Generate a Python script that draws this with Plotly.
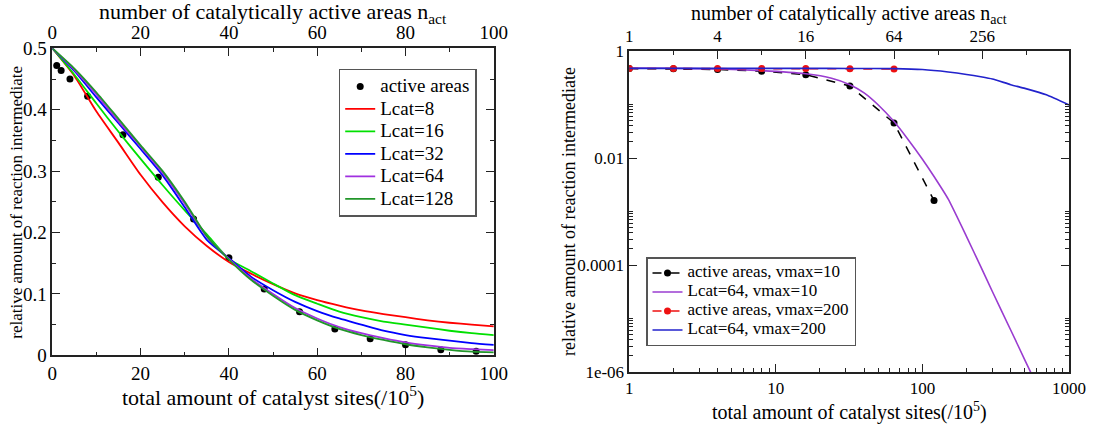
import plotly.graph_objects as go

W, H = 1093, 426
FONT = "Liberation Serif"

# ---------------- Left panel data ----------------
act_x = [1, 2, 4, 8, 16, 24, 32, 40, 48, 56, 64, 72, 80, 88, 96]
act_y = [0.472, 0.464, 0.450, 0.422, 0.359, 0.290, 0.222, 0.159, 0.108, 0.071,
         0.043, 0.027, 0.017, 0.009, 0.0065]

lcat_x = [0, 5, 10, 15, 20, 25, 30, 35, 40, 45, 50, 55, 60, 65, 70, 75, 80, 85, 90, 95, 100]
lcat8 = [0.5, 0.455, 0.397, 0.346, 0.294, 0.249, 0.210, 0.178, 0.152, 0.133, 0.116,
         0.101, 0.090, 0.081, 0.073, 0.067, 0.062, 0.057, 0.053, 0.050, 0.047]
lcat16 = [0.5, 0.457, 0.410, 0.364, 0.320, 0.277, 0.236, 0.197, 0.157, 0.137, 0.117,
          0.098, 0.084, 0.071, 0.062, 0.055, 0.050, 0.045, 0.040, 0.036, 0.033]
lcat32 = [0.5, 0.463, 0.420, 0.378, 0.336, 0.293, 0.241, 0.188, 0.158, 0.128, 0.106,
          0.087, 0.072, 0.060, 0.050, 0.040, 0.033, 0.028, 0.024, 0.020, 0.017]
lcat64 = [0.5, 0.465, 0.425, 0.381, 0.340, 0.297, 0.247, 0.193, 0.157, 0.125, 0.100,
          0.077, 0.060, 0.046, 0.036, 0.028, 0.021, 0.016, 0.012, 0.010, 0.0085]
lcat128 = [0.5, 0.467, 0.428, 0.385, 0.342, 0.300, 0.250, 0.194, 0.156, 0.123, 0.097,
           0.074, 0.057, 0.043, 0.033, 0.025, 0.018, 0.013, 0.009, 0.006, 0.0048]

# ---------------- Right panel data ----------------
act10_x = [1, 2, 4, 8, 16, 32, 64, 120]
act10_y = [0.47, 0.465, 0.45, 0.42, 0.36, 0.222, 0.045, 0.0016]
act200_x = [1, 2, 4, 8, 16, 32, 64]
act200_y = [0.472, 0.472, 0.472, 0.471, 0.470, 0.468, 0.462]

v10_x = [1, 2, 4, 8, 16, 24, 32, 40, 50, 64, 80, 100, 120, 150, 200, 250, 300, 400, 500, 560]
v10_y = [0.48, 0.475, 0.46, 0.43, 0.375, 0.31, 0.235, 0.165, 0.098, 0.048, 0.022, 0.0095,
         0.0045, 0.0017, 3.4e-4, 9.3e-5, 3.2e-5, 6.1e-6, 1.67e-6, 8.7e-7]
v200_x = [1, 2, 4, 8, 16, 32, 64, 100, 150, 200, 250, 300, 400, 500, 700, 1000]
v200_y = [0.474, 0.474, 0.474, 0.474, 0.473, 0.472, 0.468, 0.45, 0.405, 0.365, 0.33,
          0.30, 0.235, 0.20, 0.152, 0.098]

left_ticks_top = [0, 20, 40, 60, 80, 100]
right_x_ticks = [1, 10, 100, 1000]
right_top_ticks = [1, 4, 16, 64, 256]
right_top_minor = [2, 8, 32, 128, 512]
right_y_ticks = [1e-6, 1e-4, 1e-2, 1]
right_y_text = ["1e-06", "0.0001", "0.01", "1"]

right_x_minor = [m * d for d in (1, 10, 100) for m in range(2, 10)]
right_y_minor = [k * d for d in (1e-6, 1e-4, 1e-2) for k in range(2, 11)]


def big(label, px):
    return f"<span style='font-size:{px}px'>{label}</span>"


fig = go.Figure()

# Left panel traces
colors = ["#ff0000", "#00e000", "#0000ff", "#a030e0", "#22962a"]
names = ["Lcat=8", "Lcat=16", "Lcat=32", "Lcat=64", "Lcat=128"]
fig.add_trace(go.Scatter(x=act_x, y=act_y, mode="markers", name=big("active areas", 19),
                         marker=dict(color="black", size=7), xaxis="x", yaxis="y",
                         legend="legend"))
for ys, c, n in zip([lcat8, lcat16, lcat32, lcat64, lcat128], colors, names):
    fig.add_trace(go.Scatter(x=lcat_x, y=ys, mode="lines", name=big(n, 19),
                             line=dict(color=c, width=1.8, shape="spline", smoothing=0.6),
                             xaxis="x", yaxis="y", legend="legend"))
# invisible trace on the top axis (n_act)
fig.add_trace(go.Scatter(x=act_x, y=act_y, mode="markers", marker=dict(opacity=0),
                         showlegend=False, hoverinfo="skip", xaxis="x3", yaxis="y"))

# Right panel traces
fig.add_trace(go.Scatter(x=act10_x, y=act10_y, mode="lines+markers",
                         name=big("active areas, vmax=10", 17),
                         line=dict(color="black", width=1.5, dash="dash"),
                         marker=dict(color="black", size=7),
                         xaxis="x2", yaxis="y2", legend="legend2"))
fig.add_trace(go.Scatter(x=v10_x, y=v10_y, mode="lines", name=big("Lcat=64, vmax=10", 17),
                         line=dict(color="#9a3cd0", width=1.6, shape="spline", smoothing=0.5),
                         xaxis="x2", yaxis="y2", legend="legend2"))
fig.add_trace(go.Scatter(x=act200_x, y=act200_y, mode="lines+markers",
                         name=big("active areas, vmax=200", 17),
                         line=dict(color="#ee1111", width=1.5, dash="dash"),
                         marker=dict(color="#ee1111", size=7),
                         xaxis="x2", yaxis="y2", legend="legend2"))
fig.add_trace(go.Scatter(x=v200_x, y=v200_y, mode="lines", name=big("Lcat=64, vmax=200", 17),
                         line=dict(color="#2222cc", width=1.6, shape="spline", smoothing=0.5),
                         xaxis="x2", yaxis="y2", legend="legend2"))
fig.add_trace(go.Scatter(x=act10_x, y=act10_y, mode="markers", marker=dict(opacity=0),
                         showlegend=False, hoverinfo="skip", xaxis="x4", yaxis="y2"))

LC = "#222222"
common = dict(showline=True, linecolor=LC, linewidth=1.6, ticks="inside", tickcolor=LC,
              tickwidth=1.3, showgrid=False, zeroline=False, automargin=False)

lx0, lx1 = 52.3 / W, 493.8 / W
ly0, ly1 = 1 - 355.3 / H, 1 - 48.3 / H
rx0, rx1 = 629.3 / W, 1069 / W
ry0, ry1 = 1 - 372 / H, 1 - 51 / H

fig.update_layout(
    width=W, height=H, margin=dict(l=0, r=0, t=0, b=0),
    paper_bgcolor="white", plot_bgcolor="white",
    font=dict(family=FONT, color="black"),
    xaxis=dict(domain=[lx0, lx1], anchor="y", range=[0, 100], dtick=20, ticklen=8,
               minor=dict(dtick=10, ticks="inside", ticklen=4, tickcolor=LC),
               tickfont=dict(family=FONT, size=19), mirror=False, **common),
    xaxis3=dict(overlaying="x", side="top", anchor="y", range=[0, 100],
                tickmode="array", tickvals=left_ticks_top, ticklen=8,
                minor=dict(dtick=10, ticks="inside", ticklen=4, tickcolor=LC),
                tickfont=dict(family=FONT, size=19), **common),
    yaxis=dict(domain=[ly0, ly1], anchor="x", range=[0, 0.5], dtick=0.1, ticklen=8,
               minor=dict(dtick=0.05, ticks="inside", ticklen=4, tickcolor=LC),
               tickfont=dict(family=FONT, size=19), mirror="ticks", **common),
    xaxis2=dict(domain=[rx0, rx1], anchor="y2", type="log", range=[0, 3],
                tickmode="array", tickvals=right_x_ticks,
                ticktext=[str(v) for v in right_x_ticks], ticklen=8,
                minor=dict(tickmode="array", tickvals=right_x_minor, ticks="inside",
                           ticklen=4, tickcolor=LC),
                tickfont=dict(family=FONT, size=17), mirror=False, **common),
    xaxis4=dict(overlaying="x2", side="top", anchor="y2", type="log", range=[0, 3],
                tickmode="array", tickvals=right_top_ticks,
                ticktext=[str(v) for v in right_top_ticks], ticklen=8,
                minor=dict(tickmode="array", tickvals=right_top_minor, ticks="inside",
                           ticklen=4, tickcolor=LC),
                tickfont=dict(family=FONT, size=17), **common),
    yaxis2=dict(domain=[ry0, ry1], anchor="x2", type="log", range=[-6, 0],
                tickmode="array", tickvals=right_y_ticks, ticktext=right_y_text, ticklen=8,
                minor=dict(tickmode="array", tickvals=right_y_minor, ticks="inside",
                           ticklen=4, tickcolor=LC),
                tickfont=dict(family=FONT, size=17), mirror="ticks", **common),
    legend=dict(x=338.7 / W, y=1 - 68.7 / H, xanchor="left", yanchor="top",
                bgcolor="white", bordercolor="#555555", borderwidth=1.5,
                font=dict(family=FONT, size=15), itemwidth=30),
    legend2=dict(x=646 / W, y=1 - 257 / H, xanchor="left", yanchor="top",
                 bgcolor="white", bordercolor="#555555", borderwidth=1.5,
                 font=dict(family=FONT, size=9), itemwidth=30),
    showlegend=True,
)

ann = [
    dict(text="number of catalytically active areas n<sub>act</sub>",
         x=(lx0 + lx1) / 2, y=1 - 13 / H, size=22, angle=0),
    dict(text="total amount of catalyst sites(/10<sup>5</sup>)",
         x=(lx0 + lx1) / 2, y=1 - 396 / H, size=22, angle=0),
    dict(text="relative amount of reaction intermediate",
         x=16.7 / W, y=1 - 202 / H, size=17, angle=-90),
    dict(text="number of catalytically active areas n<sub>act</sub>",
         x=(rx0 + rx1) / 2, y=1 - 15 / H, size=20, angle=0),
    dict(text="total amount of catalyst sites(/10<sup>5</sup>)",
         x=(rx0 + rx1) / 2, y=1 - 411 / H, size=20, angle=0),
    dict(text="relative amount of reaction intermediate",
         x=568.5 / W, y=1 - 211.5 / H, size=18, angle=-90),
]
for a in ann:
    fig.add_annotation(text=a["text"], x=a["x"], y=a["y"], xref="paper", yref="paper",
                       xanchor="center", yanchor="middle", showarrow=False,
                       textangle=a["angle"], font=dict(family=FONT, size=a["size"]))

fig.write_html("out.html")
